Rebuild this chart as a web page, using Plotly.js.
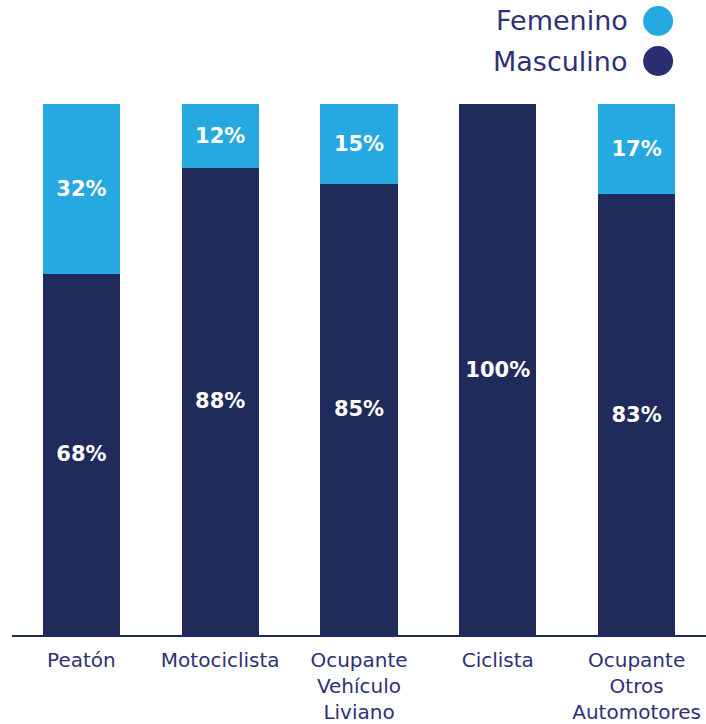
<!DOCTYPE html>
<html>
<head>
<meta charset="utf-8">
<script src="https://cdn.plot.ly/plotly-3.0.1.min.js"></script>
<style>html,body{margin:0;padding:0;background:#fff}#chart{width:706px;height:724px}</style>
</head>
<body>
<div id="chart"></div>
<script>
const categories = ["Peatón", "Motociclista", "Ocupante<br>Vehículo<br>Liviano", "Ciclista", "Ocupante<br>Otros<br>Automotores"];
const masculino = [68, 88, 85, 100, 83];
const femenino = [32, 12, 15, 0, 17];
const seriesNames = ["Femenino", "Masculino"];

const colFem = "#25A9E0";
const colMas = "#1F2B5B";
const textCol = "#2E3175";
const FONT = "DejaVu Sans, Open Sans, sans-serif";

const lbl = arr => arr.map(v => v > 0 ? v + "%" : "");

const traces = [
  {type: "bar", name: seriesNames[1], x: categories, y: masculino, text: lbl(masculino),
   marker: {color: colMas}, textposition: "inside", insidetextanchor: "middle",
   textfont: {color: "#fff", size: 21, family: FONT, weight: 700}, hoverinfo: "none"},
  {type: "bar", name: seriesNames[0], x: categories, y: femenino, text: lbl(femenino),
   marker: {color: colFem}, textposition: "inside", insidetextanchor: "middle",
   textfont: {color: "#fff", size: 21, family: FONT, weight: 700}, hoverinfo: "none"}
];

const layout = {
  width: 706, height: 724,
  margin: {l: 12, r: 0, t: 104, b: 89},
  barmode: "stack", bargap: 0.445,
  showlegend: false,
  paper_bgcolor: "#fff", plot_bgcolor: "#fff",
  font: {family: FONT, color: textCol},
  uniformtext: {mode: "show", minsize: 21},
  xaxis: {showline: true, linecolor: colMas, linewidth: 2, ticks: "", showgrid: false,
          tickfont: {size: 20, color: textCol, family: FONT}, ticklabelstandoff: 6, fixedrange: true},
  yaxis: {range: [0, 100], visible: false, showgrid: false, zeroline: false, fixedrange: true},
  annotations: [
    {xref: "paper", yref: "paper", x: 0.891, y: 1.0 + (104 - 21) / 531, xanchor: "right", yanchor: "middle",
     text: seriesNames[0], showarrow: false, font: {size: 27, color: textCol, family: FONT}},
    {xref: "paper", yref: "paper", x: 0.891, y: 1.0 + (104 - 61) / 531, xanchor: "right", yanchor: "middle",
     text: seriesNames[1], showarrow: false, font: {size: 27, color: textCol, family: FONT}}
  ],
  shapes: [
    {type: "circle", xref: "paper", yref: "paper", xsizemode: "pixel", ysizemode: "pixel",
     xanchor: 0.931, yanchor: 1.0 + (104 - 21) / 531, x0: -15, x1: 15, y0: -15, y1: 15,
     fillcolor: colFem, line: {width: 0}},
    {type: "circle", xref: "paper", yref: "paper", xsizemode: "pixel", ysizemode: "pixel",
     xanchor: 0.931, yanchor: 1.0 + (104 - 61) / 531, x0: -15, x1: 15, y0: -15, y1: 15,
     fillcolor: "#2A2F72", line: {width: 0}}
  ]
};

Plotly.newPlot("chart", traces, layout, {displayModeBar: false, staticPlot: true});
</script>
</body>
</html>
